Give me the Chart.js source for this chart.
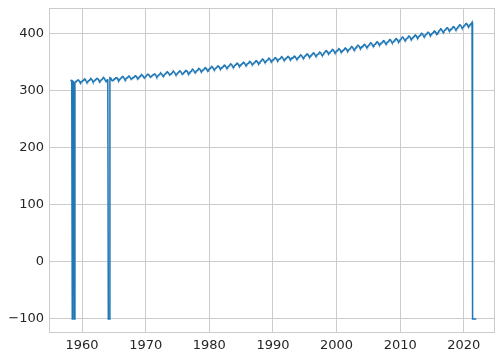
<!DOCTYPE html>
<html>
<head>
<meta charset="utf-8">
<script src="https://cdn.jsdelivr.net/npm/chart.js@4.4.0/dist/chart.umd.min.js"></script>
<style>
  html, body { margin: 0; padding: 0; background: #ffffff; }
  #wrap { width: 502px; height: 358px; position: relative; }
</style>
</head>
<body>
<div id="wrap"><canvas id="co2Chart"></canvas></div>
<script>
// monthly CO2 (ppm), -99.99 = missing month, series starts March 1958
var firstYear = 1958
var firstMonth = 3

var co2_1950s = [
    315.71, 317.45, 317.50, -99.99, 315.86, 314.93, 313.20, -99.99, 313.33, 314.67,
    315.62, 316.38, 316.71, 317.72, 318.29, 318.15, 316.54, 314.80, 313.84, 313.26, 314.80, 315.58
]
var co2_1960s = [
    316.43, 316.97, 317.58, 319.02, 320.03, 319.59, 318.18, 315.91, 314.16, 313.83, 315.00, 316.19,
    316.93, 317.70, 318.54, 319.48, 320.58, 319.77, 318.57, 316.79, 314.80, 315.38, 316.10, 317.01,
    317.94, 318.56, 319.68, 320.63, 321.01, 320.55, 319.58, 317.40, 316.26, 315.42, 316.69, 317.69,
    318.74, 319.08, 319.86, 321.39, 322.25, 321.47, 319.74, 317.77, 316.21, 315.99, 317.12, 318.31,
    319.57, -99.99, -99.99, -99.99, 322.23, 321.89, 320.44, 318.70, 316.70, 316.79, 317.79, 318.71,
    319.44, 320.44, 320.89, 322.13, 322.16, 321.87, 321.39, 318.81, 317.81, 317.30, 318.87, 319.42,
    320.62, 321.59, 322.39, 323.87, 324.01, 323.75, 322.39, 320.37, 318.64, 318.10, 319.79, 321.08,
    322.07, 322.50, 323.04, 324.42, 325.00, 324.09, 322.55, 320.92, 319.31, 319.31, 320.72, 321.96,
    322.57, 323.15, 323.89, 325.02, 325.57, 325.36, 324.14, 322.03, 320.41, 320.25, 321.31, 322.84,
    324.00, 324.42, 325.64, 326.66, 327.34, 326.76, 325.88, 323.67, 322.38, 321.78, 322.85, 324.11
]
var co2_1970s = [
    325.03, 325.99, 326.87, 328.13, 328.07, 327.66, 326.35, 324.69, 323.10, 323.16, 323.98, 325.13,
    326.17, 326.68, 327.18, 327.78, 328.92, 328.57, 327.34, 325.46, 323.36, 323.57, 324.80, 326.01,
    326.77, 327.63, 327.75, 329.72, 330.07, 329.09, 328.05, 326.32, 324.93, 325.06, 326.50, 327.55,
    328.54, 329.56, 330.30, 331.50, 332.48, 332.07, 330.87, 329.31, 327.51, 327.18, 328.16, 328.64,
    329.35, 330.71, 331.48, 332.65, 333.20, 332.16, 331.07, 329.12, 327.32, 327.28, 328.30, 329.58,
    330.73, 331.46, 331.90, 333.17, 333.94, 333.45, 331.97, 329.95, 328.50, 328.34, 329.37, 330.58,
    331.59, 332.75, 333.52, 334.64, 334.77, 334.00, 333.06, 330.68, 328.95, 328.75, 330.15, 331.62,
    332.66, 333.13, 334.95, 336.13, 336.93, 336.17, 334.88, 332.56, 331.29, 331.27, 332.41, 333.60,
    334.4, 335.2, 336.2, 337.6, 338.2, 337.7, 336.4, 334.4, 332.7, 332.6, 334.1, 335.4,
    335.8, 336.6, 337.6, 339.0, 339.6, 339.1, 337.8, 335.8, 334.1, 334.0, 335.5, 336.8
]
var co2_1980s = [
    337.8, 338.6, 339.6, 341.0, 341.6, 341.1, 339.8, 337.8, 336.1, 336.0, 337.5, 338.8,
    339.1, 339.9, 340.9, 342.3, 342.9, 342.4, 341.1, 339.1, 337.4, 337.3, 338.8, 340.1,
    340.5, 341.3, 342.3, 343.7, 344.3, 343.8, 342.5, 340.5, 338.8, 338.7, 340.2, 341.5,
    342.2, 343.0, 344.0, 345.4, 346.0, 345.5, 344.2, 342.2, 340.5, 340.4, 341.9, 343.2,
    343.9, 344.7, 345.7, 347.1, 347.7, 347.2, 345.9, 343.9, 342.2, 342.1, 343.6, 344.9,
    345.4, 346.2, 347.2, 348.6, 349.2, 348.7, 347.4, 345.4, 343.7, 343.6, 345.1, 346.4,
    346.6, 347.4, 348.4, 349.8, 350.4, 349.9, 348.6, 346.6, 344.9, 344.8, 346.3, 347.6,
    348.3, 349.1, 350.1, 351.5, 352.1, 351.6, 350.3, 348.3, 346.6, 346.5, 348.0, 349.3,
    350.7, 351.5, 352.5, 353.9, 354.5, 354.0, 352.7, 350.7, 349.0, 348.9, 350.4, 351.7,
    352.2, 353.0, 354.0, 355.4, 356.0, 355.5, 354.2, 352.2, 350.5, 350.4, 351.9, 353.2
]
var co2_1990s = [
    353.5, 354.3, 355.3, 356.7, 357.3, 356.8, 355.5, 353.5, 351.8, 351.7, 353.2, 354.5,
    354.7, 355.5, 356.5, 357.9, 358.5, 358.0, 356.7, 354.7, 353.0, 352.9, 354.4, 355.7,
    355.5, 356.3, 357.3, 358.7, 359.3, 358.8, 357.5, 355.5, 353.8, 353.7, 355.2, 356.5,
    356.2, 357.0, 358.0, 359.4, 360.0, 359.5, 358.2, 356.2, 354.5, 354.4, 355.9, 357.2,
    358.0, 358.8, 359.8, 361.2, 361.8, 361.3, 360.0, 358.0, 356.3, 356.2, 357.7, 359.0,
    360.0, 360.8, 361.8, 363.2, 363.8, 363.3, 362.0, 360.0, 358.3, 358.2, 359.7, 361.0,
    361.7, 362.5, 363.5, 364.9, 365.5, 365.0, 363.7, 361.7, 360.0, 359.9, 361.4, 362.7,
    362.9, 363.7, 364.7, 366.1, 366.7, 366.2, 364.9, 362.9, 361.2, 361.1, 362.6, 363.9,
    365.8, 366.6, 367.6, 369.0, 369.6, 369.1, 367.8, 365.8, 364.1, 364.0, 365.5, 366.8,
    367.5, 368.3, 369.3, 370.7, 371.3, 370.8, 369.5, 367.5, 365.8, 365.7, 367.2, 368.5
]
var co2_2000s = [
    368.7, 369.5, 370.5, 371.9, 372.5, 372.0, 370.7, 368.7, 367.0, 366.9, 368.4, 369.7,
    370.0, 371.0, 372.0, 373.5, 374.2, 373.8, 372.4, 370.3, 368.6, 368.5, 370.1, 371.6,
    372.2, 373.2, 374.2, 375.7, 376.4, 376.0, 374.6, 372.5, 370.8, 370.7, 372.3, 373.8,
    374.7, 375.7, 376.7, 378.2, 378.9, 378.5, 377.1, 375.0, 373.3, 373.2, 374.8, 376.3,
    376.4, 377.4, 378.4, 379.9, 380.6, 380.2, 378.8, 376.7, 375.0, 374.9, 376.5, 378.0,
    378.7, 379.7, 380.7, 382.2, 382.9, 382.5, 381.1, 379.0, 377.3, 377.2, 378.8, 380.3,
    380.8, 381.8, 382.8, 384.3, 385.0, 384.6, 383.2, 381.1, 379.4, 379.3, 380.9, 382.4,
    382.7, 383.7, 384.7, 386.2, 386.9, 386.5, 385.1, 383.0, 381.3, 381.2, 382.8, 384.3,
    384.5, 385.5, 386.5, 388.0, 388.7, 388.3, 386.9, 384.8, 383.1, 383.0, 384.6, 386.1,
    386.3, 387.3, 388.3, 389.8, 390.5, 390.1, 388.7, 386.6, 384.9, 384.8, 386.4, 387.9
]
var co2_2010s = [
    388.8, 389.8, 390.8, 392.3, 393.0, 392.6, 391.2, 389.1, 387.4, 387.3, 388.9, 390.4,
    390.6, 391.6, 392.6, 394.1, 394.8, 394.4, 393.0, 390.9, 389.2, 389.1, 390.7, 392.2,
    392.8, 393.8, 394.8, 396.3, 397.0, 396.6, 395.2, 393.1, 391.4, 391.3, 392.9, 394.4,
    395.4, 396.4, 397.4, 398.9, 399.6, 399.2, 397.8, 395.7, 394.0, 393.9, 395.5, 397.0,
    397.5, 398.5, 399.5, 401.0, 401.7, 401.3, 399.9, 397.8, 396.1, 396.0, 397.6, 399.1,
    399.7, 400.7, 401.7, 403.2, 403.9, 403.5, 402.1, 400.0, 398.3, 398.2, 399.8, 401.3,
    403.1, 404.1, 405.1, 406.6, 407.3, 406.9, 405.5, 403.4, 401.7, 401.6, 403.2, 404.7,
    405.5, 406.5, 407.5, 409.0, 409.7, 409.3, 407.9, 405.8, 404.1, 404.0, 405.6, 407.1,
    407.4, 408.4, 409.4, 410.9, 411.6, 411.2, 409.8, 407.7, 406.0, 405.9, 407.5, 409.0,
    410.4, 411.4, 412.4, 413.9, 414.6, 414.2, 412.8, 410.7, 409.0, 408.9, 410.5, 412.0
]
var co2_2020s = [
    412.9, 413.9, 414.9, 416.4, 417.1, 416.7, 415.3, 413.2, 411.5, 411.4, 413.0, 414.5,
    415.5, 416.3, 417.5, 419.0, -99.99, -99.99, -99.99, -99.99, -99.99, -99.99, -99.99, -99.99
]

var xTicks = [1960, 1970, 1980, 1990, 2000, 2010, 2020]
var yTicks = [-100, 0, 100, 200, 300, 400]

var co2Values = [].concat(co2_1950s, co2_1960s, co2_1970s, co2_1980s, co2_1990s, co2_2000s, co2_2010s, co2_2020s)

// decimal date at mid-month
var co2Points = co2Values.map(function (v, i) {
    var m = firstMonth - 1 + i
    var year = firstYear + Math.floor(m / 12)
    var month = m % 12
    return { x: year + (month + 0.5) / 12, y: v }
})

var gridColor = '#cccccc'
var textColor = '#262626'

// frame on all four sides, like the whitegrid style
var framePlugin = {
    id: 'frame',
    afterDraw: function (chart) {
        var a = chart.chartArea
        var c = chart.ctx
        c.save()
        c.strokeStyle = gridColor
        c.lineWidth = 1
        c.strokeRect(Math.round(a.left) + 0.5, Math.round(a.top) + 0.5,
            Math.round(a.right - a.left) - 1, Math.round(a.bottom - a.top) - 1)
        c.restore()
    }
}

function minusSign(v) {
    return String(v).replace('-', '\u2212')
}

function noEdgePadding(scale) {
    scale.paddingTop = 0
    scale.paddingBottom = 0
    scale.paddingLeft = 0
    scale.paddingRight = 0
}

var ctx = document.getElementById('co2Chart')
new Chart(ctx, {
    type: 'line',
    data: {
        datasets: [{
            data: co2Points,
            borderColor: '#1f77b4',
            borderWidth: 1.5,
            pointRadius: 0,
            tension: 0,
            fill: false
        }]
    },
    options: {
        responsive: true,
        maintainAspectRatio: false,
        animation: false,
        layout: { padding: { top: 8, right: 7, left: 0, bottom: 0 } },
        plugins: {
            legend: { display: false },
            tooltip: { enabled: false }
        },
        scales: {
            x: {
                type: 'linear',
                min: 1954.8,
                max: 2024.9,
                afterBuildTicks: function (scale) {
                    scale.ticks = xTicks.map(function (v) { return { value: v } })
                },
                afterFit: function (scale) {
                    scale.height = 25
                    noEdgePadding(scale)
                },
                grid: { color: gridColor, lineWidth: 1, drawTicks: false },
                border: { display: false },
                ticks: {
                    padding: 5,
                    color: textColor,
                    maxRotation: 0,
                    font: { family: 'DejaVu Sans', size: 13 },
                    callback: function (v) { return String(v) }
                }
            },
            y: {
                min: -124.5,
                max: 444,
                afterBuildTicks: function (scale) {
                    scale.ticks = yTicks.map(function (v) { return { value: v } })
                },
                afterFit: function (scale) {
                    scale.width = 49
                    noEdgePadding(scale)
                },
                grid: { color: gridColor, lineWidth: 1, drawTicks: false },
                border: { display: false },
                ticks: {
                    padding: 5,
                    color: textColor,
                    font: { family: 'DejaVu Sans', size: 13 },
                    callback: function (v) { return minusSign(v) }
                }
            }
        }
    },
    plugins: [framePlugin]
})
</script>
</body>
</html>
